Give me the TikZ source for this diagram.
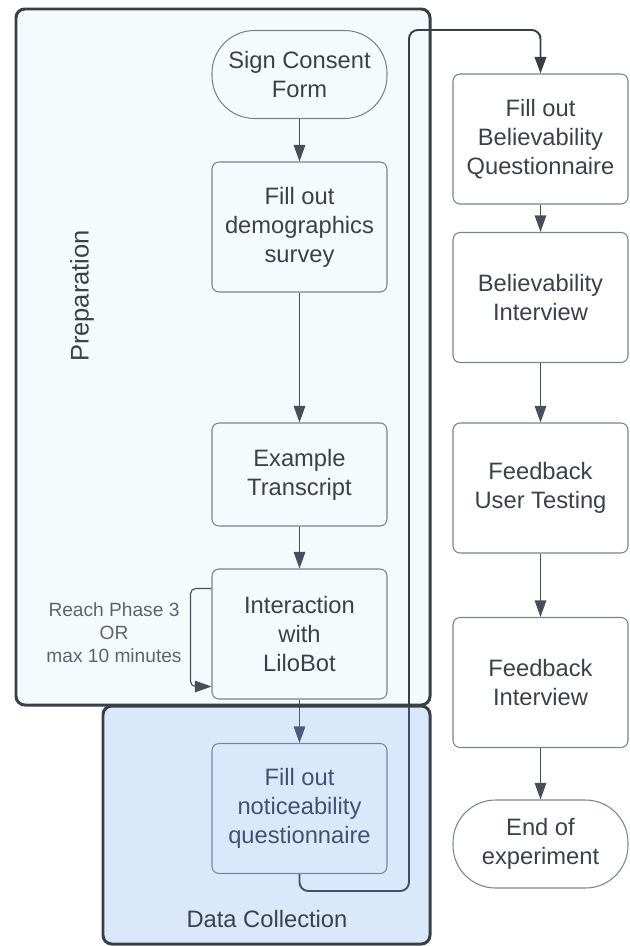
\documentclass[tikz,border=0pt]{standalone}
\usepackage{fontspec}
\setmainfont{Liberation Sans}
\usepackage{tikz}
\usetikzlibrary{positioning,arrows.meta,calc}
\definecolor{lcink}{HTML}{3A414A}
\definecolor{lcline}{HTML}{7C838B}
\definecolor{lcarrow}{HTML}{474F58}
\definecolor{lcframe}{HTML}{3A3F46}
\definecolor{lcnote}{HTML}{5E646C}
\definecolor{prepfill}{HTML}{F5FBFC}
\definecolor{dcblue}{RGB}{87,150,241}

\begin{document}
\begin{tikzpicture}[
  x=0.02cm, y=-0.02cm,
  font=\fontsize{13.5}{16.5}\selectfont,
  stepbox/.style={draw=lcline, line width=0.6pt, rounded corners=4pt, text=lcink, align=center, minimum width=3.5cm, minimum height=2.6cm, inner sep=2pt},
  terminal/.style={stepbox, rounded corners=0.85cm, minimum height=1.76cm},
  lane/.style={draw=lcframe, line width=1.7pt, rounded corners=5pt},
  lanelbl/.style={text=lcink, font=\fontsize{14.5}{17}\selectfont},
  note/.style={text=lcnote, align=center, font=\fontsize{10.9}{13.1}\selectfont},
  arr/.style={-{Triangle[length=3.3mm,width=2.3mm]}, line width=0.65pt, draw=lcarrow},
  route/.style={arr, line width=1.1pt, draw=lcframe, rounded corners=5pt},
]
  \useasboundingbox (0,0) rectangle (629,946);
  % preparation lane
  \draw[lane, fill=prepfill] (16,9) rectangle (430,705);
  \node[lanelbl, rotate=90] (preplbl) at (82,296) {Preparation};
  % left column
  \node[terminal] (consent) at (299.5,74.5) {Sign Consent\\Form};
  \node[stepbox]  (demo)    at (299.5,227)  {Fill out\\demographics\\survey};
  \node[stepbox, minimum height=2.06cm] (example) at (299.5,474.5) {Example\\Transcript};
  \node[stepbox]  (inter)   at (299.5,634)  {Interaction\\with\\LiloBot};
  \node[stepbox]  (notice)  at (299.5,808.5) {Fill out\\noticeability\\questionnaire};
  \node[note] (looplbl) at (114,633) {Reach Phase 3\\OR\\max 10 minutes};
  % right column
  \node[stepbox]  (bq)      at (540.5,139)  {Fill out\\Believability\\Questionnaire};
  \node[stepbox]  (bi)      at (540.5,297.5) {Believability\\Interview};
  \node[stepbox]  (fut)     at (540.5,488)  {Feedback\\User Testing};
  \node[stepbox]  (fi)      at (540.5,682.5) {Feedback\\Interview};
  \node[terminal] (endexp)  at (540.5,844)  {End of\\experiment};
  % arrows
  \draw[arr] (consent) -- (demo);
  \draw[arr] (demo) -- (example);
  \draw[arr] (example) -- (inter);
  \draw[arr] (inter) -- (notice);
  \draw[arr, rounded corners=3pt] ([yshift=-0.4cm]inter.north west) -- ++(-21,0) |- ([yshift=0.26cm]inter.south west);
  \coordinate (turnlow) at (409,891);
  \coordinate (turnhigh) at (409,30);
  \draw[route] (notice.south) |- (turnlow) -- (turnhigh) -| (bq.north);
  \draw[arr] (bq) -- (bi);
  \draw[arr] (bi) -- (fut);
  \draw[arr] (fut) -- (fi);
  \draw[arr] (fi) -- (endexp);
  % data collection lane
  \fill[dcblue, fill opacity=0.22, rounded corners=5pt] (103,706) rectangle (430,944);
  \draw[lane] (103,706) rectangle (430,944);
  \node[lanelbl, font=\fontsize{13.5}{16.5}\selectfont, anchor=base] (dclbl) at (267,927) {Data Collection};
\end{tikzpicture}
\end{document}
